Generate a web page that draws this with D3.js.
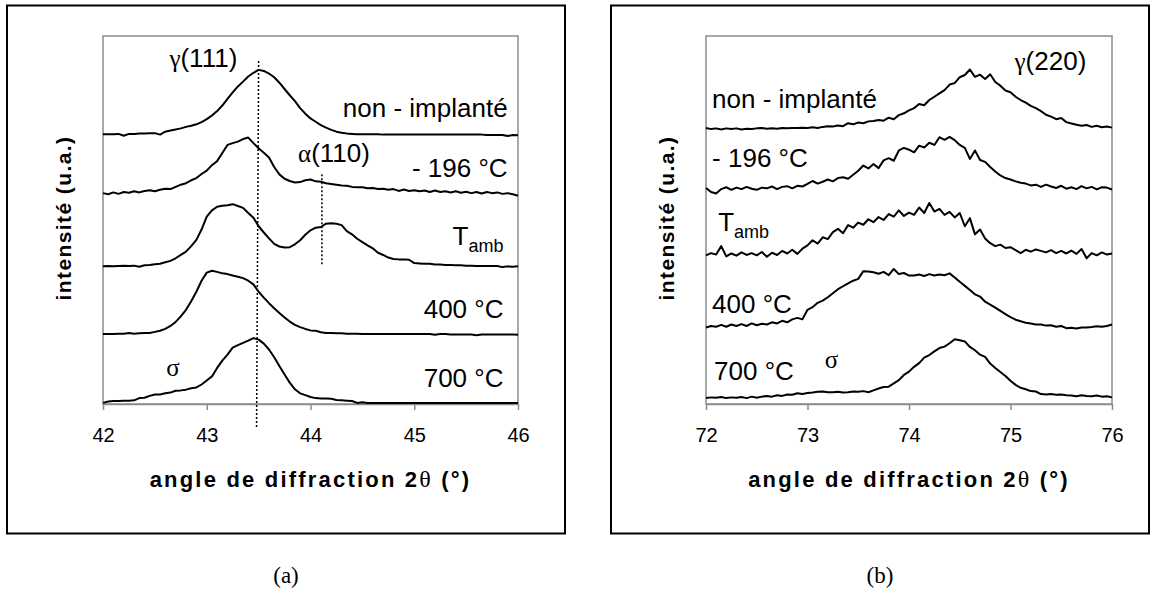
<!DOCTYPE html>
<html>
<head>
<meta charset="utf-8">
<script src="https://cdn.jsdelivr.net/npm/d3@7"></script>
<style>
  body { margin: 0; background: #fff; }
  svg { display: block; }
</style>
</head>
<body>
<script>
// 2-theta sampling (deg) for each panel
var thetaA = [42.00,42.05,42.10,42.15,42.20,42.25,42.30,42.35,42.40,42.45,42.50,42.55,42.60,42.65,42.70,42.75,42.80,42.85,42.90,42.95,
  43.00,43.05,43.10,43.15,43.20,43.25,43.30,43.35,43.40,43.45,43.50,43.55,43.60,43.65,43.70,43.75,43.80,43.85,43.90,43.95,
  44.00,44.05,44.10,44.15,44.20,44.25,44.30,44.35,44.40,44.45,44.50,44.55,44.60,44.65,44.70,44.75,44.80,44.85,44.90,44.95,
  45.00,45.05,45.10,45.15,45.20,45.25,45.30,45.35,45.40,45.45,45.50,45.55,45.60,45.65,45.70,45.75,45.80,45.85,45.90,45.95,46.00];
var thetaB = [72.00,72.05,72.10,72.15,72.20,72.25,72.30,72.35,72.40,72.45,72.50,72.55,72.60,72.65,72.70,72.75,72.80,72.85,72.90,72.95,
  73.00,73.05,73.10,73.15,73.20,73.25,73.30,73.35,73.40,73.45,73.50,73.55,73.60,73.65,73.70,73.75,73.80,73.85,73.90,73.95,
  74.00,74.05,74.10,74.15,74.20,74.25,74.30,74.35,74.40,74.45,74.50,74.55,74.60,74.65,74.70,74.75,74.80,74.85,74.90,74.95,
  75.00,75.05,75.10,75.15,75.20,75.25,75.30,75.35,75.40,75.45,75.50,75.55,75.60,75.65,75.70,75.75,75.80,75.85,75.90,75.95,76.00];

// intensities (u.a., curves already shifted as in the figure) -- panel (a), gamma(111)
var a_non = [73.3,73.3,73.3,73.4,72.9,73.4,73.4,73.5,73.5,73.6,73.6,73.2,74.0,74.3,74.6,74.9,75.3,75.6,76.0,76.6,
  77.4,78.4,79.6,81.1,82.9,84.7,86.3,87.6,89.0,90.0,90.8,90.5,89.8,88.8,87.3,85.6,83.9,82.3,80.4,78.9,
  77.6,76.7,75.8,75.1,74.5,74.0,73.7,73.5,73.4,73.3,73.3,73.3,73.3,73.3,73.2,73.2,73.2,73.2,73.2,73.2,
  73.2,73.2,73.2,73.2,73.2,73.2,73.2,73.2,73.2,73.2,73.2,73.2,73.2,73.2,73.1,73.1,73.1,73.1,72.8,73.1,73.0];
var a_m196 = [57.3,57.0,57.5,57.1,57.6,57.4,57.8,57.5,57.9,58.1,57.8,58.2,58.5,58.4,59.0,59.6,60.0,60.8,61.4,62.5,
  63.4,64.9,66.0,68.2,70.4,70.9,71.3,72.0,72.4,70.9,69.5,68.3,67.0,64.4,62.4,61.2,60.6,60.2,60.3,60.8,
  61.0,60.5,60.4,60.0,59.8,59.6,59.4,59.3,59.0,58.9,58.9,58.6,58.7,58.4,58.5,58.2,58.4,57.9,58.3,57.9,
  58.1,57.8,58.0,57.6,58.0,57.6,57.8,57.5,57.8,57.4,57.7,57.3,57.6,57.2,57.6,57.3,57.5,57.1,57.3,57.0,56.6];
var a_tamb = [37.4,37.5,37.4,37.5,37.6,37.5,37.6,37.3,37.7,37.8,38.0,38.1,38.5,38.9,39.6,40.5,41.4,42.9,44.6,47.4,
  50.9,52.6,53.6,53.9,54.0,54.3,53.8,53.3,51.9,50.6,48.3,46.6,45.0,43.5,42.8,42.5,42.6,43.4,44.5,46.0,
  47.2,47.9,48.1,49.0,49.1,49.0,48.6,47.0,46.1,44.9,44.0,43.1,42.3,41.1,40.5,39.8,39.4,39.3,39.3,39.2,
  38.3,38.2,38.1,38.1,37.9,37.9,37.8,37.8,37.7,37.7,37.6,37.6,37.5,37.5,37.5,37.5,37.5,37.2,37.4,37.3,37.4];
var a_400 = [19.0,19.0,19.0,19.1,19.1,19.3,19.1,19.2,19.3,19.3,19.6,19.9,20.4,21.2,22.3,23.8,25.6,27.9,30.5,33.5,
  35.7,36.2,35.9,35.5,35.3,34.9,34.6,34.2,33.5,32.5,30.5,28.9,27.4,26.0,24.7,23.5,22.4,21.5,20.9,20.4,
  20.0,19.9,19.5,19.3,19.3,19.2,19.2,19.1,19.1,19.1,19.0,19.0,19.0,19.0,19.0,19.0,19.0,19.0,19.0,19.0,
  19.0,19.0,19.0,19.0,18.8,19.0,19.0,18.9,18.9,18.9,18.9,18.9,18.7,18.9,18.9,18.9,18.9,18.9,18.9,18.9,18.8];
var a_700 = [0.3,0.7,0.8,0.8,0.9,0.9,1.0,1.6,1.7,2.2,2.6,2.6,2.9,3.1,3.6,3.7,3.9,4.3,4.5,5.3,
  6.4,7.5,9.8,11.8,13.4,15.3,16.0,16.6,17.2,17.9,17.5,16.4,14.8,12.7,10.3,8.0,5.8,4.0,2.9,2.4,
  1.9,1.6,1.5,1.5,1.4,1.1,1.0,0.9,0.8,0.3,0.5,0.3,0.3,0.3,0.3,0.3,0.3,0.3,0.3,0.3,
  0.3,0.3,0.3,0.3,0.3,0.3,0.3,0.3,0.3,0.3,0.3,0.3,0.3,0.3,0.3,0.3,0.3,0.3,0.3,0.3,0.3];

// panel (b), gamma(220)
var b_non = [75.0,74.7,74.9,74.6,74.9,74.7,74.9,74.6,74.8,74.7,74.9,75.0,74.8,74.9,74.8,75.0,74.9,75.0,75.0,75.1,
  75.0,75.2,75.0,75.3,75.5,75.4,75.7,75.5,76.3,76.0,76.5,76.3,76.8,76.9,77.2,77.0,77.8,77.4,78.5,79.0,
  79.8,80.4,81.5,81.2,82.6,83.5,84.4,85.3,86.8,87.2,88.8,89.4,90.9,88.9,89.5,88.3,89.6,87.5,86.5,85.2,
  84.7,83.5,82.6,81.9,81.0,80.4,79.6,78.6,78.1,77.4,77.7,76.6,76.2,75.9,75.6,75.8,75.3,75.6,75.2,75.4,75.1];
var b_m196 = [58.7,57.6,57.2,58.4,58.9,58.2,58.8,58.4,59.0,58.5,58.2,58.8,58.6,59.1,58.4,59.0,59.2,58.6,59.3,59.1,
  59.8,60.6,59.9,60.4,61.0,60.5,61.4,61.6,61.2,62.3,63.4,64.8,64.0,65.2,64.1,66.2,66.8,66.1,68.9,69.6,
  69.1,68.4,70.2,69.7,71.0,70.4,72.5,71.8,72.6,71.7,70.4,69.6,66.6,68.9,66.3,65.8,64.4,63.2,62.1,61.4,
  61.0,60.5,60.1,59.9,59.4,59.6,59.0,59.6,59.1,58.7,59.3,58.5,58.9,58.4,59.2,58.6,59.0,58.3,58.9,58.8,58.3];
var b_tamb = [40.4,41.0,40.6,42.9,40.1,40.9,40.3,41.2,40.5,41.0,40.4,41.3,40.0,41.1,40.5,41.6,40.9,41.9,40.8,42.2,
  43.1,44.5,43.6,45.3,44.8,46.7,47.6,46.4,48.6,47.9,49.3,48.7,50.2,49.4,50.8,50.0,51.6,50.9,52.6,51.1,
  52.0,51.4,53.4,51.9,54.6,52.3,53.0,51.4,52.2,50.7,51.9,48.3,50.5,46.1,47.4,45.0,43.7,42.9,43.3,42.4,
  42.6,41.8,41.0,41.9,41.4,42.0,41.6,41.2,41.8,41.0,41.6,40.9,41.7,40.8,42.1,39.6,41.0,40.4,41.2,40.6,40.9];
var b_400 = [20.8,21.2,21.0,21.5,21.0,21.6,21.2,21.7,21.2,21.9,21.4,21.8,21.6,22.2,21.9,22.6,22.2,23.0,23.4,23.0,
  25.6,26.3,27.5,28.1,29.0,30.1,31.2,32.0,32.8,33.5,34.0,36.1,36.0,35.8,35.4,35.9,35.0,36.7,35.3,35.6,
  34.9,34.9,35.2,34.8,35.3,34.9,35.2,35.0,35.5,34.4,33.2,32.1,31.0,29.8,29.2,27.8,27.0,26.2,25.3,24.4,
  23.6,22.9,22.5,22.1,21.9,21.6,21.6,21.3,21.4,21.0,21.2,20.6,20.7,20.5,20.8,20.8,20.9,21.1,21.0,21.2,21.6];
var b_700 = [1.6,1.8,1.7,1.9,1.6,1.8,1.7,1.9,1.6,2.0,1.7,2.0,2.2,2.0,2.4,2.2,2.6,2.5,2.9,2.7,
  3.0,3.1,3.3,3.4,3.2,3.2,3.3,3.1,3.2,3.4,3.3,3.5,3.2,3.7,4.2,4.6,4.7,5.6,6.5,7.9,
  8.8,10.1,11.1,12.6,13.3,14.3,15.2,15.6,16.5,17.6,17.3,17.0,15.5,14.6,13.4,12.8,11.0,9.8,8.7,7.6,
  6.3,5.2,4.4,4.0,3.5,3.4,2.7,2.6,2.7,2.5,2.6,2.4,2.3,2.1,2.4,2.2,2.1,2.3,2.0,2.1,1.8];

var ticksA = [42, 43, 44, 45, 46];
var ticksB = [72, 73, 74, 75, 76];

var W = 1153, H = 612;
var sans = "Arial, 'Liberation Sans', sans-serif";
var serif = "'Times New Roman', 'Liberation Serif', serif";

var svg = d3.select("body").append("svg")
    .attr("width", W)
    .attr("height", H);

function drawPanel(p) {
    var x = d3.scaleLinear().domain(p.domain).range([p.left, p.right]);
    var y = d3.scaleLinear().domain([0, 100]).range([p.bottom, p.top]);
    var g = svg.append("g");

    // outer frame
    g.append("rect")
        .attr("x", p.box[0]).attr("y", p.box[1])
        .attr("width", p.box[2]).attr("height", p.box[3])
        .attr("fill", "none").attr("stroke", "#000").attr("stroke-width", 2);

    // plot area border (grey)
    g.append("rect")
        .attr("x", p.left).attr("y", p.top)
        .attr("width", p.right - p.left).attr("height", p.bottom - p.top)
        .attr("fill", "none").attr("stroke", "#8c8c8c").attr("stroke-width", 1.5);

    // x axis
    var ax = g.append("g")
        .attr("transform", "translate(0," + p.bottom + ")")
        .call(d3.axisBottom(x).tickValues(p.ticks).tickFormat(d3.format("d"))
            .tickSize(6).tickPadding(18).tickSizeOuter(0));
    ax.select(".domain").attr("stroke", "#8c8c8c").attr("stroke-width", 1.5);
    ax.selectAll(".tick line").attr("stroke", "#8c8c8c").attr("stroke-width", 1.5);
    ax.selectAll(".tick text")
        .attr("fill", "#000")
        .style("font-family", sans)
        .style("font-size", "20px");

    // reference lines
    p.refs.forEach(function(r) {
        g.append("line")
            .attr("x1", x(r.x1)).attr("y1", y(r.y1))
            .attr("x2", x(r.x2)).attr("y2", y(r.y2))
            .attr("stroke", "#000").attr("stroke-width", 1.5)
            .attr("stroke-dasharray", "2,2");
    });

    // diffraction curves
    var line = d3.line()
        .x(function(d) { return x(d[0]); })
        .y(function(d) { return y(d[1]); });
    p.series.forEach(function(s) {
        g.append("path")
            .datum(p.theta.map(function(t, i) { return [t, s[i]]; }))
            .attr("d", line)
            .attr("fill", "none")
            .attr("stroke", "#000")
            .attr("stroke-width", 2)
            .attr("stroke-linejoin", "round");
    });

    // annotations
    p.labels.forEach(function(l) {
        var t = g.append("text")
            .attr("x", x(l.x)).attr("y", y(l.y))
            .attr("text-anchor", l.anchor || "start")
            .style("font-family", sans)
            .style("font-size", "26px")
            .attr("fill", "#000");
        if (l.greek) {
            t.append("tspan").style("font-family", serif).style("font-size", "25px").text(l.greek);
        }
        if (l.text) t.append("tspan").text(l.text);
        if (l.sub) t.append("tspan").attr("dy", 7).style("font-size", "18px").text(l.sub);
    });

    // axis titles
    var tx = g.append("text")
        .attr("x", (p.left + p.right) / 2).attr("y", p.bottom + 83)
        .attr("text-anchor", "middle")
        .style("font-family", sans).style("font-weight", "bold").style("font-size", "22px")
        .style("letter-spacing", "2.2px");
    tx.append("tspan").text("angle de diffraction 2");
    tx.append("tspan").style("font-family", serif).style("font-weight", "normal").style("font-size", "24px").text("θ");
    tx.append("tspan").text(" (°)");

    g.append("text")
        .attr("transform", "translate(" + (p.left - 32) + "," + ((p.top + p.bottom) / 2 - 2) + ") rotate(-90)")
        .attr("text-anchor", "middle")
        .style("font-family", sans).style("font-weight", "bold").style("font-size", "21px")
        .style("letter-spacing", "1.4px")
        .text("intensité (u.a.)");

    // panel letter
    g.append("text")
        .attr("x", p.box[0] + p.box[2] / 2).attr("y", 583)
        .attr("text-anchor", "middle")
        .style("font-family", serif).style("font-size", "23px")
        .text(p.letter);
}

drawPanel({
    box: [7, 5.5, 558, 528],
    left: 103, right: 518, top: 36, bottom: 404,
    domain: [42, 46], ticks: ticksA, theta: thetaA,
    series: [a_non, a_m196, a_tamb, a_400, a_700],
    refs: [{x1: 43.50, y1: 93.2, x2: 43.48, y2: -6.6},
           {x1: 44.11, y1: 62.4, x2: 44.11, y2: 37.7}],
    labels: [
        {x: 42.64, y: 91.6, greek: "γ", text: "(111)"},
        {x: 45.90, y: 77.9, text: "non - implanté", anchor: "end"},
        {x: 45.90, y: 61.6, text: "- 196 °C", anchor: "end"},
        {x: 43.88, y: 65.7, greek: "α", text: "(110)"},
        {x: 45.86, y: 43.3, text: "T", sub: "amb", anchor: "end"},
        {x: 45.86, y: 23.4, text: "400 °C", anchor: "end"},
        {x: 45.86, y: 4.6, text: "700 °C", anchor: "end"},
        {x: 42.61, y: 7.6, greek: "σ"}
    ],
    letter: "(a)"
});

drawPanel({
    box: [611, 5.5, 538, 528],
    left: 706, right: 1112, top: 36, bottom: 404,
    domain: [72, 76], ticks: ticksB, theta: thetaB,
    series: [b_non, b_m196, b_tamb, b_400, b_700],
    refs: [],
    labels: [
        {x: 75.04, y: 90.7, greek: "γ", text: "(220)"},
        {x: 72.06, y: 80.5, text: "non - implanté"},
        {x: 72.06, y: 64.3, text: "- 196 °C"},
        {x: 72.12, y: 47.0, text: "T", sub: "amb"},
        {x: 72.06, y: 24.7, text: "400 °C"},
        {x: 72.08, y: 6.4, text: "700 °C"},
        {x: 73.17, y: 9.9, greek: "σ"}
    ],
    letter: "(b)"
});
</script>
</body>
</html>
